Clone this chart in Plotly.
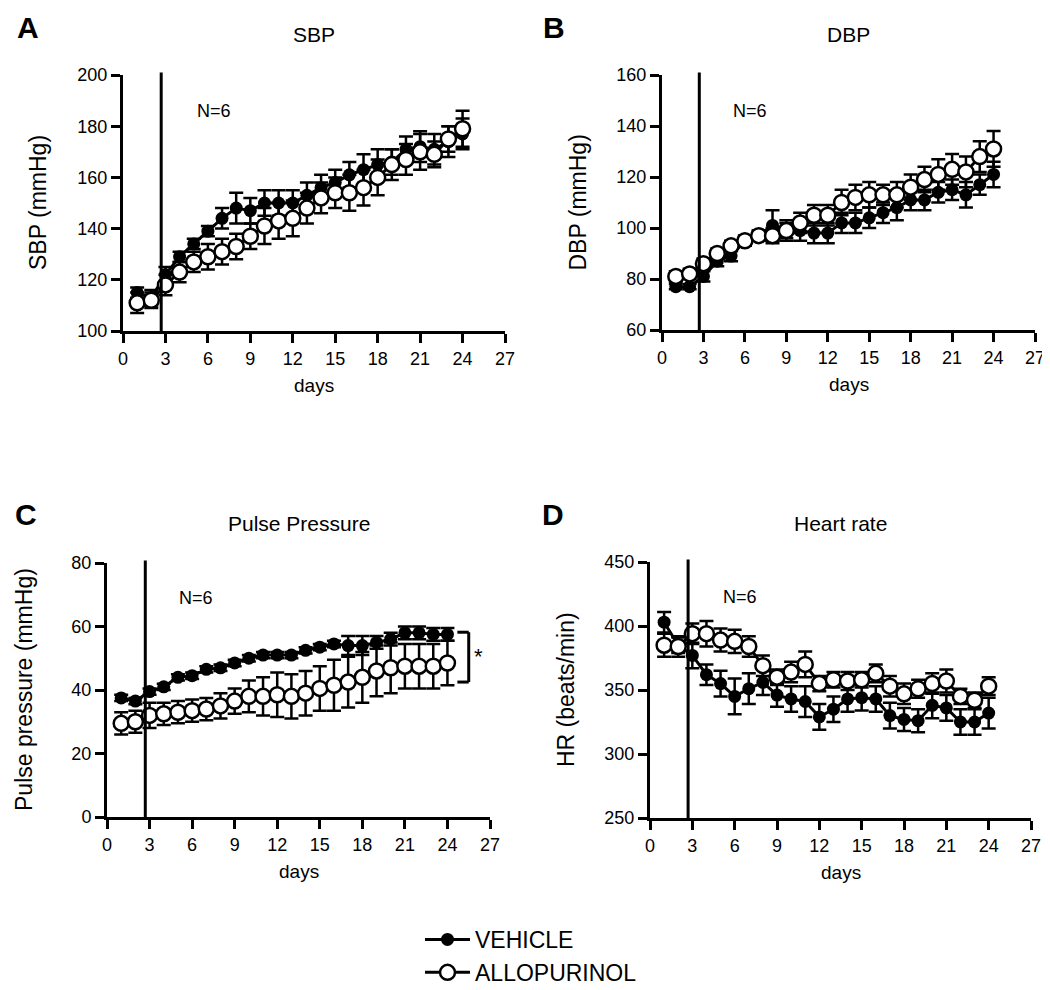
import plotly.graph_objects as go

# days of treatment
days = list(range(1, 25))

# SBP (mmHg)
sbp_vehicle = [115, 113, 122, 129, 134, 139, 144, 148, 147, 150, 150, 150, 153, 156, 158, 161, 163, 165, 166, 171, 172, 171, 174, 177]
sbp_vehicle_err = [2, 3, 3, 2, 2, 2, 4, 6, 5, 5, 5, 5, 5, 5, 5, 5, 6, 6, 5, 5, 6, 6, 6, 6]
sbp_allo = [111, 112, 118, 123, 127, 129, 131, 133, 137, 141, 143, 144, 148, 152, 154, 154, 156, 160, 165, 167, 170, 169, 175, 179]
sbp_allo_err = [4, 3, 4, 4, 4, 5, 5, 5, 5, 7, 7, 7, 6, 6, 6, 7, 7, 7, 6, 6, 7, 5, 5, 7]

# DBP (mmHg)
dbp_vehicle = [77, 77, 81, 87, 89, 95, 97, 101, 99, 99, 98, 98, 102, 102, 104, 106, 108, 111, 111, 114, 115, 113, 117, 121]
dbp_vehicle_err = [1, 1, 2, 2, 2, 2, 2, 6, 3, 4, 4, 4, 4, 4, 4, 4, 5, 4, 4, 4, 4, 5, 4, 5]
dbp_allo = [81, 82, 86, 90, 93, 95, 97, 97, 99, 102, 105, 105, 110, 112, 113, 113, 113, 116, 119, 121, 123, 122, 128, 131]
dbp_allo_err = [2, 2, 2, 2, 2, 2, 2, 3, 4, 4, 4, 4, 5, 5, 5, 4, 5, 5, 5, 6, 6, 6, 6, 7]

# Pulse pressure (mmHg)
pp_vehicle = [37.5, 36.5, 39.5, 41, 44, 44.5, 46.5, 47, 48.5, 50, 51, 51, 51, 52.5, 53.5, 54.5, 54, 54, 55, 56, 58, 58, 57.5, 57.5]
pp_vehicle_err = [1, 1, 1, 1, 1, 1, 1, 1, 1, 1, 1, 1, 1, 1, 1, 1, 3, 3, 2, 2, 2, 2, 2, 2]
pp_allo = [29.5, 30, 32, 32.5, 33, 33.5, 34, 35, 36.5, 38, 38, 38.5, 38, 39, 40.5, 41.5, 42.5, 44, 46, 47, 47.5, 47.5, 47.5, 48.5]
pp_allo_err = [3.5, 3.5, 4, 3.5, 3.5, 3.5, 3.5, 4, 4, 5, 6, 7, 7, 7, 7, 8, 8, 8, 8, 8, 7, 7, 7, 7]

# Heart rate (beats/min)
hr_vehicle = [403, 385, 377, 362, 355, 345, 351, 356, 346, 343, 341, 329, 335, 343, 344, 343, 330, 327, 326, 338, 336, 325, 325, 332]
hr_vehicle_err = [8, 6, 10, 8, 10, 14, 12, 10, 9, 10, 12, 10, 10, 10, 10, 10, 10, 9, 9, 10, 10, 10, 10, 12]
hr_allo = [385, 384, 394, 394, 389, 388, 384, 369, 360, 364, 370, 355, 358, 357, 358, 363, 353, 347, 351, 355, 357, 345, 342, 353]
hr_allo_err = [9, 8, 8, 10, 9, 9, 8, 8, 6, 8, 10, 6, 6, 7, 6, 7, 8, 8, 7, 8, 9, 6, 6, 7]

W, H = 1050, 990
OFF = 8  # page body margin: the figure is drawn 8px in from the window corner
FONT = "Liberation Sans, Arial, Helvetica, sans-serif"


def px(x):
    return (x - OFF) / W


def py(y):
    return 1 - (y - OFF) / H


# one dict per panel; box = pixel box of the plotting area (left, right, top, bottom)
panels = [
    dict(n="", box=(123, 505, 75, 331), yr=[100, 200], dt=20, title="SBP", title_y=35,
         ytitle="SBP (mmHg)", letter="A", lpos=(28, 27), ytx=38, nlab=(6.4, 186),
         veh=(sbp_vehicle, sbp_vehicle_err), allo=(sbp_allo, sbp_allo_err)),
    dict(n="2", box=(662, 1035, 75, 330), yr=[60, 160], dt=20, title="DBP", title_y=35,
         ytitle="DBP (mmHg)", letter="B", lpos=(554, 27), ytx=577, nlab=(6.4, 146),
         veh=(dbp_vehicle, dbp_vehicle_err), allo=(dbp_allo, dbp_allo_err)),
    dict(n="3", box=(107, 490, 563, 817), yr=[0, 80], dt=20, title="Pulse Pressure", title_y=523,
         ytitle="Pulse pressure (mmHg)", letter="C", lpos=(26, 515), ytx=24, nlab=(6.3, 69),
         veh=(pp_vehicle, pp_vehicle_err), allo=(pp_allo, pp_allo_err)),
    dict(n="4", box=(650, 1031, 562, 818), yr=[250, 450], dt=50, title="Heart rate", title_y=523,
         ytitle="HR (beats/min)", letter="D", lpos=(553, 515), ytx=566, nlab=(6.4, 423),
         veh=(hr_vehicle, hr_vehicle_err), allo=(hr_allo, hr_allo_err)),
]

fig = go.Figure()
annotations = []
shapes = []
axis_style = dict(showline=True, linewidth=3, linecolor="black", ticks="outside", ticklen=9,
                  tickwidth=3, tickcolor="black", showgrid=False, zeroline=False,
                  tickfont=dict(family=FONT, size=18, color="black"))


def label(text, x, y, size, **kw):
    return dict(text=text, x=px(x), y=py(y), xref="paper", yref="paper", showarrow=False,
                xanchor="center", yanchor="middle",
                font=dict(family=FONT, size=size, color="black", **kw.pop("font", {})), **kw)


for i, p in enumerate(panels):
    x0, x1, y0, y1 = p["box"]
    xa, ya = "x" + p["n"], "y" + p["n"]
    fig.layout["xaxis" + p["n"]] = dict(domain=[px(x0), px(x1)], range=[0, 27], dtick=3, tick0=0,
                                        anchor=ya, **axis_style)
    fig.layout["yaxis" + p["n"]] = dict(domain=[py(y1), py(y0)], range=p["yr"], dtick=p["dt"],
                                        tick0=p["yr"][0], anchor=xa, **axis_style)

    v, ve = p["veh"]
    a, ae = p["allo"]
    fig.add_trace(go.Scatter(
        x=days, y=v, xaxis=xa, yaxis=ya, mode="lines+markers", name="VEHICLE",
        showlegend=(i == 0), legendrank=1, cliponaxis=False,
        line=dict(color="black", width=3),
        marker=dict(symbol="circle", size=13, color="black"),
        error_y=dict(type="data", array=ve, color="black", thickness=2.5, width=7)))
    fig.add_trace(go.Scatter(
        x=days, y=a, xaxis=xa, yaxis=ya, mode="lines+markers", name="ALLOPURINOL",
        showlegend=(i == 0), legendrank=2, cliponaxis=False,
        line=dict(color="black", width=3),
        marker=dict(symbol="circle", size=15, color="white", line=dict(color="black", width=2.5)),
        error_y=dict(type="data", array=ae, color="black", thickness=2.5, width=7)))

    # treatment start marker
    shapes.append(dict(type="line", xref=xa, yref=ya + " domain", x0=2.7, x1=2.7, y0=0, y1=1.01,
                       line=dict(color="black", width=3)))

    cx = (x0 + x1) / 2
    annotations += [
        label(p["title"], cx, p["title_y"], 21),
        label(p["letter"], p["lpos"][0], p["lpos"][1], 30, font=dict(weight="bold")),
        label(p["ytitle"], p["ytx"], (y0 + y1) / 2, 23, textangle=-90),
        label("days", cx, y1 + 54, 19),
        dict(text="N=6", x=p["nlab"][0], y=p["nlab"][1], xref=xa, yref=ya, showarrow=False,
             xanchor="center", yanchor="middle", font=dict(family=FONT, size=18, color="black")),
    ]

# significance bracket in pulse pressure panel
for xs, ys in [((24.7, 25.5), (58.2, 58.2)), ((25.5, 25.5), (58.2, 42.5)), ((24.7, 25.5), (42.5, 42.5))]:
    shapes.append(dict(type="line", xref="x3", yref="y3", x0=xs[0], x1=xs[1], y0=ys[0], y1=ys[1],
                       line=dict(color="black", width=3)))
annotations.append(dict(text="*", x=26.2, y=50.5, xref="x3", yref="y3", showarrow=False,
                        xanchor="center", yanchor="middle",
                        font=dict(family=FONT, size=22, color="black")))

fig.update_layout(
    width=W, height=H, margin=dict(l=0, r=0, t=0, b=0, autoexpand=False),
    paper_bgcolor="white", plot_bgcolor="white",
    annotations=annotations, shapes=shapes,
    showlegend=True,
    legend=dict(x=px(420), y=py(918), xanchor="left", yanchor="top",
                font=dict(family=FONT, size=23, color="black"), bgcolor="rgba(0,0,0,0)",
                tracegroupgap=0, itemwidth=45),
)

fig.write_html("out.html")
